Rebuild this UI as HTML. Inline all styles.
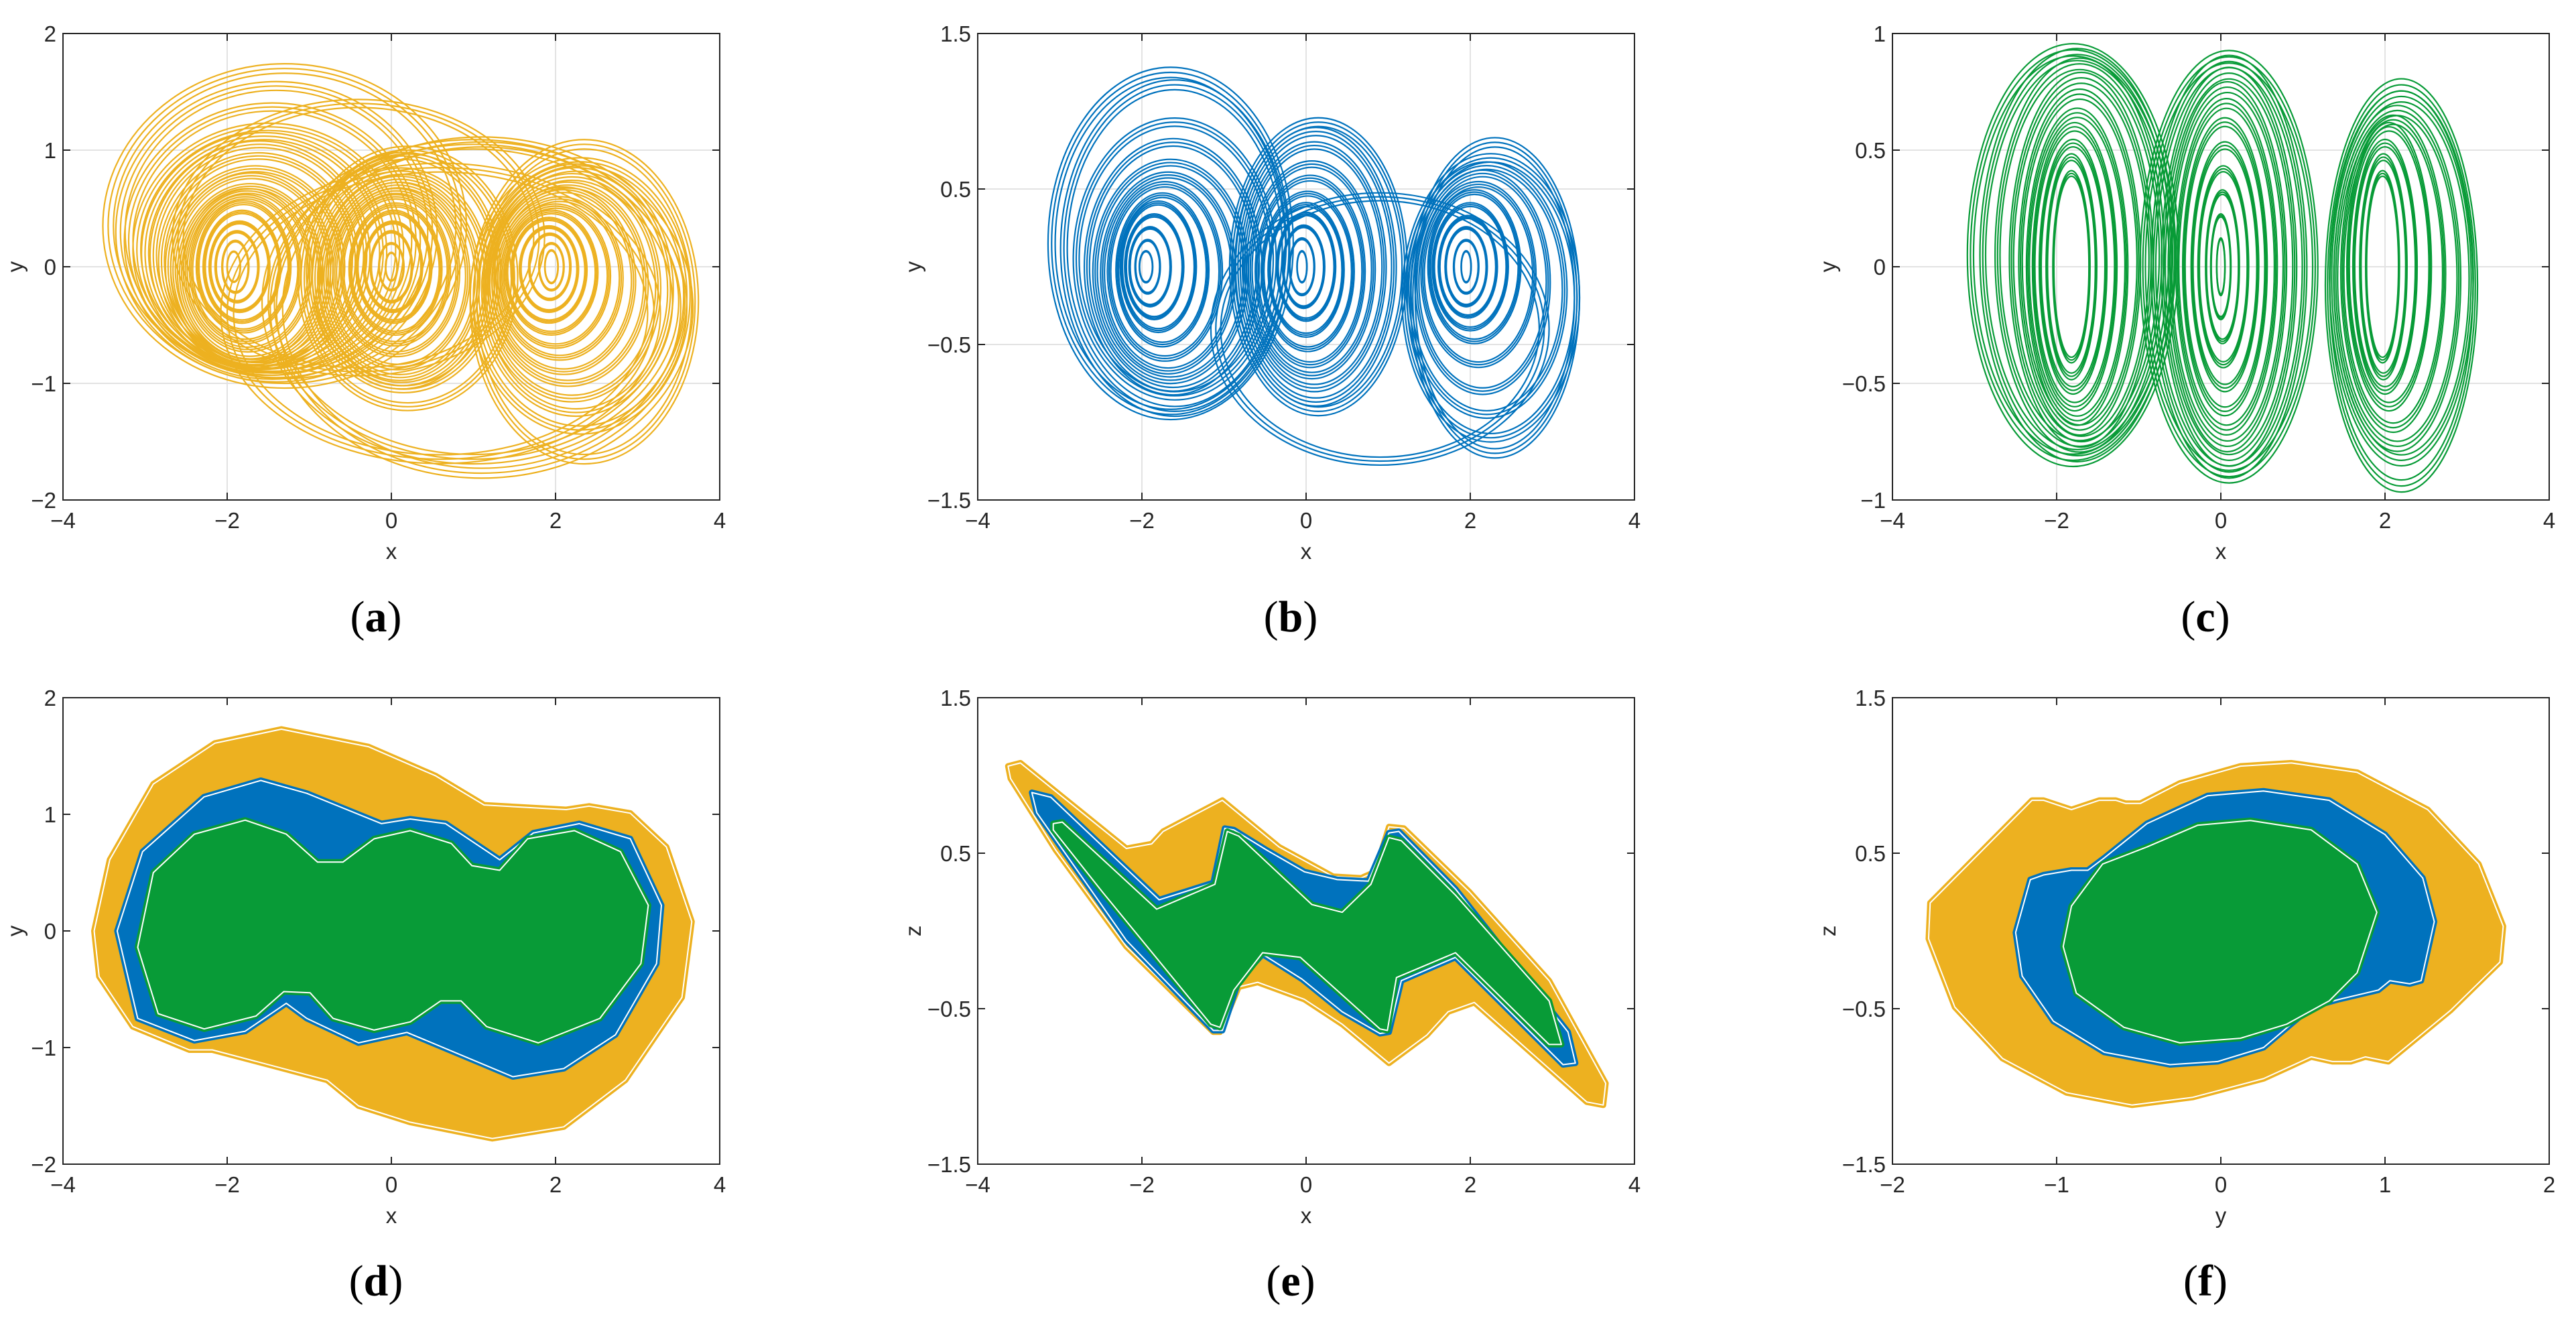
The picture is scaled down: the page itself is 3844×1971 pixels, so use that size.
<!DOCTYPE html>
<html><head><meta charset="utf-8"><style>
html,body{margin:0;padding:0;background:#fff;}
svg{display:block;}
text{font-family:"Liberation Sans",sans-serif;fill:#262626;}
.pl{font-family:"Liberation Serif",serif;fill:#000;}
</style></head><body>
<svg id="fig" width="3844" height="1971" viewBox="0 0 3844 1971" xmlns="http://www.w3.org/2000/svg"></svg>
<script>
// ---- Panel (a) loops: centers and radii (x, y data units)
const aCx=[-1.92,-1.9,-1.88,-1.85,-1.82,-1.8,-1.78,-1.75,-1.72,-1.7,-1.66,-1.62,-1.6,-1.55,-1.5,-1.45,-1.4,-1.3, 0,0,0,0.02,0.03,0.05,0.05,0.06,0.08,0.1,0.12,0.15,0.2, 1.95,1.95,1.93,1.92,1.92,1.95,2.0,2.05,2.1,2.15,2.2,2.25,2.3,2.35, 1.0,1.1,0.6,-0.4];
const aCy=[0,0,0,0,0,0,-0.02,-0.03,-0.05,-0.02,0,0.05,0.1,0.12,0.15,0.22,0.3,0.35, 0,0,0,0,0,-0.02,-0.03,-0.05,-0.08,-0.1,-0.1,-0.05,-0.1, 0,0,0,-0.02,-0.03,-0.05,-0.08,-0.1,-0.12,-0.15,-0.18,-0.2,-0.25,-0.3, -0.3,-0.35,-0.4,0.25];
const aRx=[0.08,0.16,0.26,0.36,0.46,0.56,0.66,0.76,0.86,0.96,1.06,1.18,1.3,1.45,1.6,1.75,1.9,2.15, 0.07,0.15,0.25,0.35,0.45,0.55,0.65,0.75,0.85,0.95,1.05,1.15,1.3, 0.08,0.15,0.25,0.35,0.45,0.55,0.65,0.75,0.85,0.95,1.05,1.15,1.3,1.35, 2.5,2.5,2.6,2.2];
const aRy=[0.13,0.22,0.3,0.38,0.47,0.55,0.62,0.68,0.74,0.8,0.84,0.9,0.95,1.0,1.05,1.15,1.25,1.35, 0.12,0.2,0.3,0.38,0.47,0.55,0.63,0.7,0.78,0.85,0.92,1.0,1.1, 0.14,0.2,0.28,0.36,0.44,0.52,0.6,0.68,0.78,0.85,0.95,1.05,1.15,1.35, 1.35,1.42,1.25,1.15];
// ---- Panel (b) loops
const bCx=[-1.95,-1.93,-1.9,-1.85,-1.8,-1.75,-1.72,-1.68,-1.65,-1.62,-1.6,-1.6,-1.65, -0.05,-0.05,-0.03,0,0,0.02,0.05,0.07,0.1,0.12,0.15, 1.95,1.95,1.95,1.97,2.0,2.05,2.1,2.15,2.2,2.25,2.3, 0.9];
const bCy=[0,0,0,0,0,-0.02,-0.03,-0.04,-0.03,0,0.05,0.12,0.15, 0,0,0,0,-0.02,-0.03,-0.03,-0.02,0,0,0, 0,0,0,0,0,0,-0.05,-0.1,-0.15,-0.2,-0.2, -0.4];
const bRx=[0.08,0.15,0.25,0.35,0.45,0.55,0.68,0.8,0.92,1.05,1.2,1.35,1.45, 0.06,0.15,0.25,0.35,0.45,0.55,0.65,0.75,0.85,0.95,1.05, 0.06,0.15,0.25,0.35,0.45,0.55,0.68,0.8,0.95,1.05,1.0, 2.0];
const bRy=[0.1,0.17,0.25,0.33,0.41,0.48,0.56,0.63,0.7,0.8,0.88,1.05,1.1, 0.1,0.18,0.26,0.34,0.42,0.5,0.6,0.68,0.78,0.87,0.93, 0.1,0.17,0.25,0.32,0.4,0.48,0.58,0.7,0.8,0.9,1.0, 0.85];
// ---- Panel (c) loops
const cCx=[-1.82,-1.82,-1.8,-1.78,-1.75,-1.72,-1.7,-1.72,-1.75,-1.8, 0,0,0.02,0.03,0.05,0.05,0.07,0.08,0.1,0.1,0.1, 1.97,1.98,2.0,2.05,2.1,2.15,2.2,2.2];
const cCy=[0,0,0,0,0,0.02,0.03,0.05,0.05,0.05, 0,0,0,0,0,0,0,0,0,0,0, 0,0,0,0,-0.03,-0.05,-0.05,-0.08];
const cRx=[0.22,0.3,0.4,0.5,0.6,0.72,0.85,1.0,1.15,1.25, 0.05,0.12,0.2,0.3,0.4,0.5,0.6,0.7,0.8,0.92,1.05, 0.2,0.28,0.38,0.5,0.62,0.75,0.85,0.9];
const cRy=[0.4,0.47,0.53,0.6,0.66,0.72,0.78,0.82,0.86,0.88, 0.12,0.22,0.32,0.42,0.52,0.62,0.7,0.77,0.83,0.88,0.9, 0.4,0.47,0.53,0.6,0.66,0.72,0.78,0.86];
const strandScale=[1,1.03,0.97];

// ---- Panel (d) regions (x,y)
const dYellowX=[-3.62,-3.43,-2.90,-2.15,-1.34,-0.28,0.54,1.13,2.13,2.41,2.91,3.35,3.66,3.54,2.85,2.10,1.23,0.23,-0.40,-0.78,-2.18,-2.46,-3.15,-3.56];
const dYellowY=[0.0,0.61,1.26,1.61,1.73,1.58,1.33,1.08,1.04,1.07,1.01,0.72,0.08,-0.57,-1.28,-1.68,-1.78,-1.64,-1.50,-1.28,-1.02,-1.02,-0.82,-0.39];
const dBlueX=[-3.34,-3.03,-2.28,-1.59,-1.03,-0.12,0.23,0.66,1.32,1.73,2.29,2.91,3.29,3.23,2.73,2.10,1.48,1.04,0.19,-0.40,-1.03,-1.28,-1.78,-2.40,-3.09];
const dBlueY=[0.0,0.68,1.15,1.29,1.18,0.92,0.96,0.92,0.61,0.84,0.92,0.79,0.22,-0.28,-0.89,-1.18,-1.25,-1.12,-0.87,-0.96,-0.75,-0.62,-0.86,-0.94,-0.75];
const dGreenX=[-3.09,-2.90,-2.40,-1.78,-1.28,-0.90,-0.59,-0.21,0.23,0.73,0.98,1.32,1.66,2.23,2.79,3.13,3.04,2.54,1.79,1.16,0.85,0.60,0.23,-0.21,-0.71,-0.99,-1.31,-1.65,-2.28,-2.84];
const dGreenY=[-0.14,0.50,0.83,0.95,0.83,0.59,0.59,0.79,0.86,0.75,0.56,0.52,0.79,0.86,0.68,0.22,-0.28,-0.75,-0.96,-0.82,-0.60,-0.60,-0.78,-0.85,-0.75,-0.53,-0.52,-0.73,-0.84,-0.71];
// ---- Panel (e) regions (x,z)
const eYellowX=[-3.63,-3.48,-2.19,-1.88,-1.74,-1.02,-0.33,0.33,0.67,0.84,1.01,1.19,1.99,2.96,3.65,3.62,3.42,2.05,1.73,1.47,1.01,0.44,-0.02,-0.59,-0.82,-1.05,-1.13,-2.19,-3.05,-3.60];
const eYellowY=[1.06,1.08,0.53,0.56,0.64,0.84,0.54,0.35,0.34,0.38,0.67,0.66,0.25,-0.32,-0.98,-1.12,-1.10,-0.46,-0.52,-0.67,-0.85,-0.60,-0.44,-0.33,-0.36,-0.65,-0.65,-0.10,0.52,0.98];
const eBlueX=[-3.34,-3.11,-1.79,-1.13,-0.99,-0.88,-0.48,-0.02,0.38,0.76,1.01,1.13,1.82,3.19,3.28,3.13,1.82,1.16,1.01,0.90,0.44,-0.05,-0.53,-0.82,-1.02,-1.13,-2.19,-3.28];
const eBlueY=[0.89,0.86,0.20,0.31,0.66,0.65,0.52,0.38,0.33,0.32,0.63,0.64,0.27,-0.65,-0.85,-0.86,-0.17,-0.32,-0.65,-0.66,-0.52,-0.31,-0.15,-0.32,-0.64,-0.64,-0.06,0.76];
const eGreenX=[-3.08,-2.97,-1.82,-1.11,-0.96,-0.82,0.07,0.44,0.79,1.01,1.16,1.82,2.96,3.11,2.96,1.82,1.10,0.99,0.90,-0.07,-0.53,-0.88,-1.05,-1.16,-2.48,-3.08];
const eGreenY=[0.69,0.70,0.14,0.30,0.64,0.61,0.17,0.12,0.30,0.60,0.58,0.23,-0.45,-0.73,-0.73,-0.14,-0.30,-0.64,-0.63,-0.17,-0.14,-0.38,-0.62,-0.60,0.25,0.65];
// ---- Panel (f) regions (y,z)
const fYellowX=[-1.77,-1.15,-1.08,-0.91,-0.74,-0.64,-0.58,-0.49,-0.25,0.12,0.43,0.83,1.26,1.57,1.72,1.70,1.40,1.02,0.88,0.79,0.68,0.55,0.26,-0.17,-0.54,-0.94,-1.33,-1.62,-1.78];
const fYellowY=[0.18,0.84,0.84,0.78,0.84,0.84,0.82,0.82,0.95,1.06,1.08,1.02,0.78,0.43,0.03,-0.20,-0.51,-0.84,-0.81,-0.84,-0.84,-0.81,-0.95,-1.07,-1.12,-1.04,-0.82,-0.49,-0.05];
const fBlueX=[-1.16,-1.08,-0.91,-0.81,-0.71,-0.45,-0.08,0.26,0.66,1.00,1.23,1.30,1.22,1.15,1.03,0.96,0.72,0.55,0.26,-0.02,-0.31,-0.71,-1.02,-1.21,-1.25];
const fBlueY=[0.33,0.36,0.39,0.39,0.47,0.69,0.87,0.90,0.84,0.62,0.34,0.06,-0.32,-0.34,-0.32,-0.38,-0.44,-0.49,-0.75,-0.84,-0.86,-0.78,-0.58,-0.29,-0.01];
const fGreenX=[-0.72,-0.45,-0.14,0.18,0.55,0.83,0.95,0.83,0.66,0.40,0.12,-0.25,-0.59,-0.88,-0.96,-0.91];
const fGreenY=[0.43,0.54,0.68,0.71,0.65,0.43,0.12,-0.27,-0.45,-0.60,-0.69,-0.72,-0.62,-0.40,-0.10,0.16];

// tick values
const xTicks4=[-4,-2,0,2,4];
const xTicks2=[-2,-1,0,1,2];
const yTicks2=[-2,-1,0,1,2];
const yTicks15=[-1.5,-0.5,0.5,1.5];
const yTicks1=[-1,-0.5,0,0.5,1];

const YEL='#EDB120', BLU='#0072BD', GRN='#089B37';
const NS='http://www.w3.org/2000/svg';
const svg=document.getElementById('fig');
function mk(tag,attrs,parent){const e=document.createElementNS(NS,tag);for(const k in attrs)e.setAttribute(k,attrs[k]);(parent||svg).appendChild(e);return e;}
function fmt(v){return (v<0?'\u2212':'')+Math.abs(v);}

const W=980,H=696;
function makePanel(id,left,top,xmin,xmax,ymin,ymax,xt,yt,xlab,ylab,grid,letter,ylabOff){
  const g=mk('g',{});
  
  
  const sx=v=>left+(v-xmin)/(xmax-xmin)*W;
  const sy=v=>top+H-(v-ymin)/(ymax-ymin)*H;
  if(grid){
    xt.forEach(v=>{const l=mk('line',{x1:sx(v),x2:sx(v),y1:top,y2:top+H,stroke:'#e3e3e3','stroke-width':2},g);
      });
    yt.forEach(v=>{const l=mk('line',{x1:left,x2:left+W,y1:sy(v),y2:sy(v),stroke:'#e3e3e3','stroke-width':2},g);
      });
  }
  const plot=mk('g',{},g);
  
  
  // axes box and ticks drawn after content
  const finish=()=>{
    const box=mk('rect',{x:left,y:top,width:W,height:H,fill:'none',stroke:'#262626','stroke-width':2},g);
    
    xt.forEach(v=>{
      mk('line',{x1:sx(v),x2:sx(v),y1:top+H,y2:top+H-11,stroke:'#262626','stroke-width':2},g);
      mk('line',{x1:sx(v),x2:sx(v),y1:top,y2:top+11,stroke:'#262626','stroke-width':2},g);
      const t=mk('text',{x:sx(v),y:top+H+42,'text-anchor':'middle','font-size':33},g);
      t.textContent=fmt(v);
      
    });
    yt.forEach(v=>{
      mk('line',{x1:left,x2:left+11,y1:sy(v),y2:sy(v),stroke:'#262626','stroke-width':2},g);
      mk('line',{x1:left+W,x2:left+W-11,y1:sy(v),y2:sy(v),stroke:'#262626','stroke-width':2},g);
      const t=mk('text',{x:left-10,y:sy(v)+12,'text-anchor':'end','font-size':33},g);
      t.textContent=fmt(v);
      
    });
    const xl=mk('text',{x:left+W/2,y:top+H+88,'text-anchor':'middle','font-size':33},g);
    xl.textContent=xlab;
    const yl=mk('text',{x:0,y:0,'text-anchor':'middle','font-size':33,transform:`translate(${left+ylabOff},${top+H/2}) rotate(-90)`},g);
    yl.textContent=ylab;
    const pl=mk('text',{x:left+W/2-23,y:top+H+196,'text-anchor':'middle','font-size':66,class:'pl'},g);
    pl.innerHTML='(<tspan font-weight="bold">'+letter+'</tspan>)';
    
  };
  return {g:plot,sx,sy,finish};
}

function drawLoops(p,cx,cy,rx,ry,color,name){
  for(let i=0;i<cx.length;i++){
    strandScale.forEach(s=>{
      const px=p.sx(cx[i]), py=p.sy(cy[i]);
      const rxp=Math.abs(p.sx(cx[i]+rx[i]*s)-px), ryp=Math.abs(p.sy(cy[i]+ry[i]*s)-py);
      const e=mk('ellipse',{cx:px,cy:py,rx:rxp,ry:ryp,fill:'none',stroke:color,'stroke-width':2.2},p.g);
      
      
    });
  }
}
function drawRegion(p,xs,ys,color,name){
  const pts=xs.map((x,i)=>p.sx(x).toFixed(1)+','+p.sy(ys[i]).toFixed(1)).join(' ');
  const e=mk('polygon',{points:pts,fill:color,stroke:color,'stroke-width':9,'stroke-linejoin':'round'},p.g);
  
  
  const w=mk('polygon',{points:pts,fill:'none',stroke:'#ffffff','stroke-width':2,'stroke-linejoin':'round'},p.g);
  
  
}

const T1=50, T2=1041, L1=94, L2=1459, L3=2824;
let p;
p=makePanel('a',L1,T1,-4,4,-2,2,xTicks4,yTicks2,'x','y',true,'a',-60);
drawLoops(p,aCx,aCy,aRx,aRy,YEL,'trajectory-a');p.finish();
p=makePanel('b',L2,T1,-4,4,-1.5,1.5,xTicks4,yTicks15,'x','y',true,'b',-85);
drawLoops(p,bCx,bCy,bRx,bRy,BLU,'trajectory-b');p.finish();
p=makePanel('c',L3,T1,-4,4,-1,1,xTicks4,yTicks1,'x','y',true,'c',-85);
drawLoops(p,cCx,cCy,cRx,cRy,GRN,'trajectory-c');p.finish();
p=makePanel('d',L1,T2,-4,4,-2,2,xTicks4,yTicks2,'x','y',false,'d',-60);
drawRegion(p,dYellowX,dYellowY,YEL,'region-yellow-d');drawRegion(p,dBlueX,dBlueY,BLU,'region-blue-d');drawRegion(p,dGreenX,dGreenY,GRN,'region-green-d');p.finish();
p=makePanel('e',L2,T2,-4,4,-1.5,1.5,xTicks4,yTicks15,'x','z',false,'e',-85);
drawRegion(p,eYellowX,eYellowY,YEL,'region-yellow-e');drawRegion(p,eBlueX,eBlueY,BLU,'region-blue-e');drawRegion(p,eGreenX,eGreenY,GRN,'region-green-e');p.finish();
p=makePanel('f',L3,T2,-2,2,-1.5,1.5,xTicks2,yTicks15,'y','z',false,'f',-85);
drawRegion(p,fYellowX,fYellowY,YEL,'region-yellow-f');drawRegion(p,fBlueX,fBlueY,BLU,'region-blue-f');drawRegion(p,fGreenX,fGreenY,GRN,'region-green-f');p.finish();
</script>
</body></html>
